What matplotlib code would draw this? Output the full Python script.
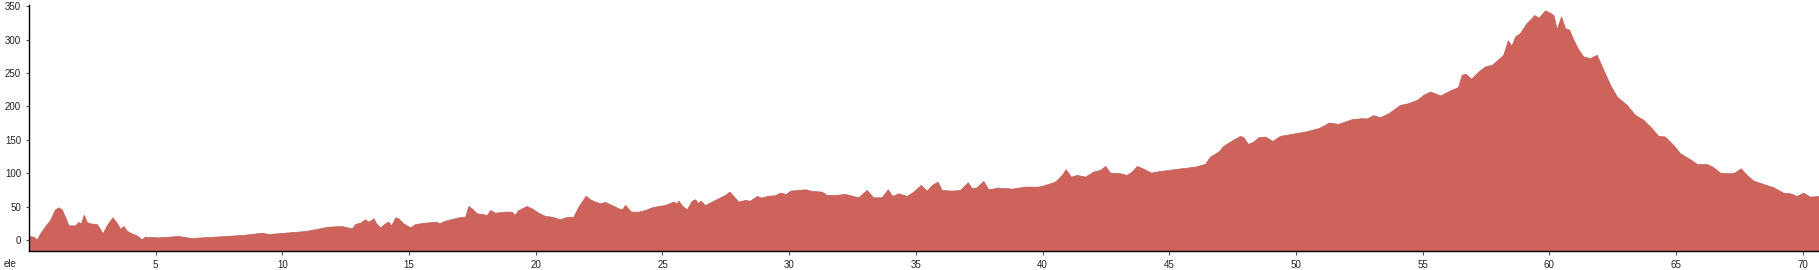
import matplotlib
matplotlib.use("Agg")
import matplotlib.pyplot as plt

# distance (km) and elevation (m)
distance = [0.0, 0.17, 0.31, 0.44, 0.64, 0.83, 1.03, 1.16, 1.29, 1.42, 1.56, 1.82, 1.95, 2.05, 2.16, 2.28,
            2.41, 2.67, 2.77, 2.90, 3.07, 3.29, 3.46, 3.60, 3.73, 3.86, 3.99, 4.25, 4.45, 4.58, 5.10, 5.90,
            6.42, 6.82, 7.74, 8.53, 9.19, 9.45, 10.1, 10.9, 11.4, 11.8, 12.34, 12.74, 12.87, 13.07, 13.26,
            13.4, 13.6, 13.7, 13.86, 14.05, 14.18, 14.3, 14.45, 14.58, 14.77, 15.04, 15.24, 15.63, 16.09,
            16.18, 16.42, 16.95, 17.21, 17.34, 17.47, 17.67, 17.87, 18.07, 18.2, 18.39, 18.79, 19.05, 19.16,
            19.31, 19.64, 19.84, 20.1, 20.37, 20.63, 20.96, 21.16, 21.48, 21.68, 21.97, 22.14, 22.34, 22.54,
            22.73, 23.0, 23.26, 23.4, 23.52, 23.76, 24.05, 24.31, 24.58, 24.84, 25.1, 25.43, 25.55, 25.63,
            25.78, 25.96, 26.16, 26.29, 26.4, 26.5, 26.68, 26.94, 27.2, 27.47, 27.64, 27.8, 27.99, 28.26,
            28.46, 28.72, 28.9, 29.18, 29.44, 29.64, 29.87, 30.04, 30.36, 30.63, 30.89, 31.29, 31.48, 31.81,
            32.21, 32.73, 33.06, 33.32, 33.65, 33.89, 34.07, 34.31, 34.64, 34.9, 35.19, 35.43, 35.63, 35.86,
            36.02, 36.42, 36.74, 37.05, 37.21, 37.4, 37.66, 37.86, 38.25, 38.79, 39.31, 39.83, 40.1, 40.49,
            40.76, 40.91, 41.12, 41.35, 41.68, 42.0, 42.27, 42.47, 42.66, 43.06, 43.32, 43.52, 43.72, 43.94,
            44.28, 44.57, 44.96, 45.49, 46.02, 46.41, 46.61, 46.94, 47.13, 47.47, 47.79, 47.93, 48.1, 48.32,
            48.52, 48.78, 49.07, 49.37, 49.83, 50.36, 50.88, 51.15, 51.28, 51.67, 52.2, 52.6, 52.8, 53.05,
            53.32, 53.65, 54.11, 54.44, 54.77, 55.03, 55.29, 55.69, 56.08, 56.39, 56.54, 56.7, 56.91, 57.2,
            57.46, 57.73, 57.99, 58.18, 58.36, 58.5, 58.65, 58.84, 59.1, 59.3, 59.4, 59.58, 59.83, 59.99,
            60.16, 60.29, 60.46, 60.62, 60.78, 60.95, 61.15, 61.34, 61.6, 61.87, 62.13, 62.4, 62.66, 63.05,
            63.38, 63.71, 64.04, 64.3, 64.56, 64.89, 65.16, 65.55, 65.82, 66.21, 66.47, 66.73, 67.13, 67.3,
            67.55, 67.79, 68.05, 68.44, 68.84, 69.23, 69.5, 69.76, 70.02, 70.28, 70.64]
elevation = [6, 5, 1, 10, 21, 30, 46, 49, 46, 35, 22, 22, 27, 25, 38, 27,
             25, 24, 19, 10, 22, 34, 26, 17, 21, 14, 11, 7, 1, 5, 4, 6,
             3, 4, 6, 8, 11, 9, 11, 13.5, 17, 20, 21, 17.5, 24, 26, 31,
             27.5, 32.5, 25, 19, 25, 27.5, 22, 34, 32.5, 25, 19, 24, 26, 27.5,
             25, 29, 34, 35, 51, 47.5, 40, 39, 37.5, 45, 41, 42.5, 42.5, 37.5,
             45, 51, 47.5, 41, 36, 35, 31, 34, 35, 50, 66.5, 61, 57.5, 55,
             57, 52.5, 47.5, 46, 52.5, 42.5, 42.5, 45, 49, 51, 52.5, 57.5, 55, 59,
             51, 46, 59, 61, 55, 59, 52.5, 57.5, 62.5, 67.5, 72.5, 66, 57.5, 60,
             59, 66, 63.5, 66.5, 67, 71, 69, 74, 75, 76, 73.5, 72.5, 67.5, 67.5,
             69, 64, 75, 64, 64, 76, 66, 70, 66, 72.5, 82.5, 74, 82.5, 87.5,
             75, 74, 75, 86.5, 77.5, 79, 88.5, 76, 78.5, 77, 80, 80, 82.5, 87.5,
             97.5, 106, 95, 97.5, 95, 102.5, 105, 111, 101, 100, 97.5, 102.5, 111, 107.5,
             101, 103, 105, 107.5, 110, 114, 125, 132.5, 141, 149, 156, 154, 144, 147.5,
             154, 155, 148.5, 156, 159, 162.5, 167.5, 172.5, 176, 174, 181, 182.5, 182, 187,
             184, 190, 202.5, 205, 210, 217.5, 222.5, 216.5, 224, 229, 247.5, 249, 241.5, 252.5,
             260, 262.5, 271, 277.5, 299, 291, 305, 310, 325, 332.5, 337, 333, 344, 341,
             337, 316, 335, 317.5, 315, 300, 285, 275, 272.5, 277.5, 255, 232.5, 215, 202.5,
             187.5, 180, 167.5, 156, 155, 142.5, 130, 121, 114, 114, 109, 101, 100, 101,
             107.5, 97.5, 89, 84, 79, 71, 70, 66, 71, 65, 66]

x_ticks = [5, 10, 15, 20, 25, 30, 35, 40, 45, 50, 55, 60, 65, 70]
y_ticks = [0, 50, 100, 150, 200, 250, 300, 350]
axis_label = "ele"

fill_color = "#cd635a"
text_color = "#222222"

W, H = 1819, 270
fig = plt.figure(figsize=(W / 100, H / 100), dpi=100)
ax = fig.add_axes([29 / W, (H - 250.7) / H, (W - 29) / W, (250.7 - 5) / H])

ymin, ymax = -16, 352
ax.fill_between(distance, ymin, elevation, color=fill_color, linewidth=0.5,
                edgecolor="#c0605c")
ax.set_xlim(0, 70.64)
ax.set_ylim(ymin, ymax)

ax.set_xticks(x_ticks)
ax.set_yticks(y_ticks)
for s in ("top", "right"):
    ax.spines[s].set_visible(False)
for s in ("left", "bottom"):
    ax.spines[s].set_color("black")
    ax.spines[s].set_linewidth(1.0)

ax.tick_params(axis="y", length=2.2, width=0.8, pad=3.5, labelsize=7,
               labelcolor=text_color, color="#555555")
ax.tick_params(axis="x", length=3, width=0.8, pad=3.5, labelsize=7,
               labelcolor=text_color, color="#555555")
for lab in ax.get_xticklabels() + ax.get_yticklabels():
    lab.set_fontfamily("Liberation Sans")

fig.text(4 / W, (H - 264) / H, axis_label, fontsize=7, color=text_color,
         family="Liberation Sans", va="center", ha="left")

fig.savefig("out.png", dpi=100)
